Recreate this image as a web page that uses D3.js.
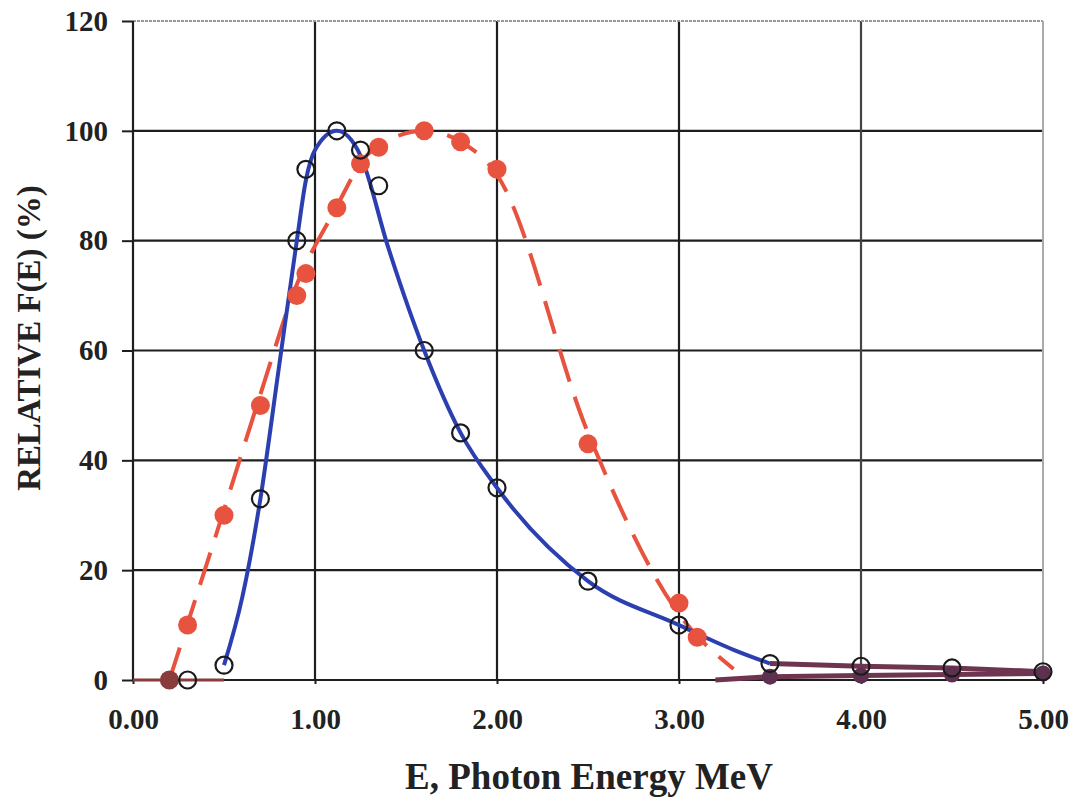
<!DOCTYPE html>
<html>
<head>
<meta charset="utf-8">
<script src="https://cdn.jsdelivr.net/npm/d3@7"></script>
<style>
  body { margin: 0; background: #fff; }
  text { font-family: "Liberation Serif", "Times New Roman", serif; font-weight: bold; fill: #222; }
</style>
</head>
<body>
<div class="graph"></div>
<script>
// open circles + solid blue fit
var openE   = [0.3, 0.5, 0.7, 0.9, 0.95, 1.12, 1.25, 1.35, 1.6, 1.8, 2.0, 2.5, 3.0, 3.5, 4.0, 4.5, 5.0];
var openF   = [0,   2.7, 33,  80,  93,   100,  96.5, 90,   60,  45,  35,  18,  10,  3,   2.5, 2.2, 1.5];
// filled red circles + dashed fit
var redE    = [0.2, 0.3, 0.5, 0.7, 0.9, 0.95, 1.12, 1.25, 1.35, 1.6, 1.8, 2.0, 2.5, 3.0, 3.1];
var redF    = [0,   10,  30,  50,  70,  74,   86,   94,   97,   100, 98,  93,  43,  14,  7.8];
// smooth curve shapes
var blueCurveE = [0.5, 0.6, 0.7, 0.8,  0.9, 0.95, 1.0,  1.12, 1.25, 1.4, 1.6, 1.8, 2.0, 2.5, 3.0, 3.3, 3.5];
var blueCurveF = [2.7, 15,  33,  56.5, 80,  91,   96.5, 100,  95.5, 79,  60,  45,  35,  18,  10,  5.5, 3];
var redCurveE  = [0.2, 0.5, 0.7, 0.9, 1.1, 1.3, 1.6, 1.8, 2.0, 2.5, 3.0, 3.3];
var redCurveF  = [0,   31,  52,  72,  85,  96,  100, 98,  92,  45,  12,  2];
// dark base lines
var baseE   = [3.5, 4.0, 4.5, 5.0];
var baseF   = [0.6, 0.8, 1.0, 1.2];
var xTicks  = [0, 1, 2, 3, 4, 5];
var yTicks  = [0, 20, 40, 60, 80, 100, 120];

var margin = { top: 21, left: 133, right: 34, bottom: 123 },
    width = 1077, height = 803;
var w = width - margin.left - margin.right,
    h = height - margin.top - margin.bottom;

var svg = d3.select(".graph").append("svg")
    .attr("width", width)
    .attr("height", height);
var g = svg.append("g")
    .attr("transform", "translate(" + margin.left + "," + margin.top + ")");

var x = d3.scaleLinear().domain([0, 5]).range([0, w]);
var y = d3.scaleLinear().domain([0, 120]).range([h, 0]);

// grid
g.selectAll(".hgrid").data(yTicks.slice(1, -1)).enter().append("line")
    .attr("x1", 0).attr("x2", w)
    .attr("y1", function(d) { return y(d); }).attr("y2", function(d) { return y(d); })
    .attr("stroke", "#1e1e1e").attr("stroke-width", 2.2);
g.selectAll(".vgrid").data(xTicks.slice(1, -1)).enter().append("line")
    .attr("y1", 0).attr("y2", h)
    .attr("x1", function(d) { return x(d); }).attr("x2", function(d) { return x(d); })
    .attr("stroke", function(d) { return d === 4 ? "#444" : "#1e1e1e"; })
    .attr("stroke-width", 2.2);
// top + right border (faint)
g.append("line").attr("x1", 0).attr("x2", w).attr("y1", 0).attr("y2", 0)
    .attr("stroke", "#999").attr("stroke-width", 2).attr("stroke-dasharray", "3,1");
g.append("line").attr("x1", w).attr("x2", w).attr("y1", 0).attr("y2", h)
    .attr("stroke", "#aaa").attr("stroke-width", 2);

// axes
var yAxis = d3.axisLeft(y).tickValues(yTicks).tickSize(11).tickPadding(14).tickFormat(d3.format("d"));
var xAxis = d3.axisBottom(x).tickValues(xTicks).tickSize(4).tickPadding(24).tickFormat(d3.format(".2f"));
var ya = g.append("g").call(yAxis);
var xa = g.append("g").attr("transform", "translate(0," + h + ")").call(xAxis);
[ya, xa].forEach(function(a) {
  a.select(".domain").attr("stroke", "#1e1e1e").attr("stroke-width", 2.2);
  a.selectAll(".tick line").attr("stroke", "#1e1e1e").attr("stroke-width", 2);
  a.selectAll("text").style("font-size", "29px").attr("fill", "#222");
});
ya.select(".domain").attr("d", "M0," + h + "V0");
xa.select(".domain").attr("d", "M0,0H" + w);

svg.append("text")
    .attr("transform", "translate(40," + (margin.top + 317) + ") rotate(-90)")
    .attr("text-anchor", "middle")
    .style("font-size", "33px")
    .text("RELATIVE F(E) (%)");
svg.append("text")
    .attr("x", 589).attr("y", 789)
    .attr("text-anchor", "middle")
    .style("font-size", "37px")
    .text("E, Photon Energy MeV");

var zip = function(a, b) { return a.map(function(v, i) { return [v, b[i]]; }); };
var straight = d3.line()
    .x(function(d) { return x(d[0]); })
    .y(function(d) { return y(d[1]); });
var smooth = d3.line()
    .x(function(d) { return x(d[0]); })
    .y(function(d) { return y(d[1]); })
    .curve(d3.curveMonotoneX);

// dark base lines
g.append("path")
    .attr("d", straight(zip([0, 0.5], [0, 0])))
    .attr("stroke", "#8a3c3c").attr("stroke-width", 3).attr("fill", "none");
g.append("path")
    .attr("d", straight(zip([3.2].concat(baseE), [0].concat(baseF))))
    .attr("stroke", "#6e3550").attr("stroke-width", 5).attr("fill", "none");
g.append("path")
    .attr("d", straight(zip(openE.slice(-4), openF.slice(-4))))
    .attr("stroke", "#6e3550").attr("stroke-width", 5).attr("fill", "none");
g.selectAll(".base").data(zip(baseE, baseF)).enter().append("circle")
    .attr("cx", function(d) { return x(d[0]); })
    .attr("cy", function(d) { return y(d[1]); })
    .attr("r", 8).attr("fill", "#5e3050");

// red dashed fit
g.append("path")
    .attr("d", smooth(zip(redCurveE, redCurveF)))
    .attr("stroke", "#e8533f").attr("stroke-width", 4).attr("fill", "none")
    .attr("stroke-dasharray", "34,16");

// blue fit
g.append("path")
    .attr("d", smooth(zip(blueCurveE, blueCurveF)))
    .attr("stroke", "#2c3fb0").attr("stroke-width", 4).attr("fill", "none");

// red filled points
g.selectAll(".red").data(zip(redE, redF)).enter().append("circle")
    .attr("cx", function(d) { return x(d[0]); })
    .attr("cy", function(d) { return y(d[1]); })
    .attr("r", 9.5)
    .attr("fill", function(d, i) { return i === 0 ? "#8a3c3c" : "#e8533f"; });

// open circles
g.selectAll(".open").data(zip(openE, openF)).enter().append("circle")
    .attr("cx", function(d) { return x(d[0]); })
    .attr("cy", function(d) { return y(d[1]); })
    .attr("r", 8.5)
    .attr("fill", "none").attr("stroke", "#1a1a1a").attr("stroke-width", 2.2);
</script>
</body>
</html>
